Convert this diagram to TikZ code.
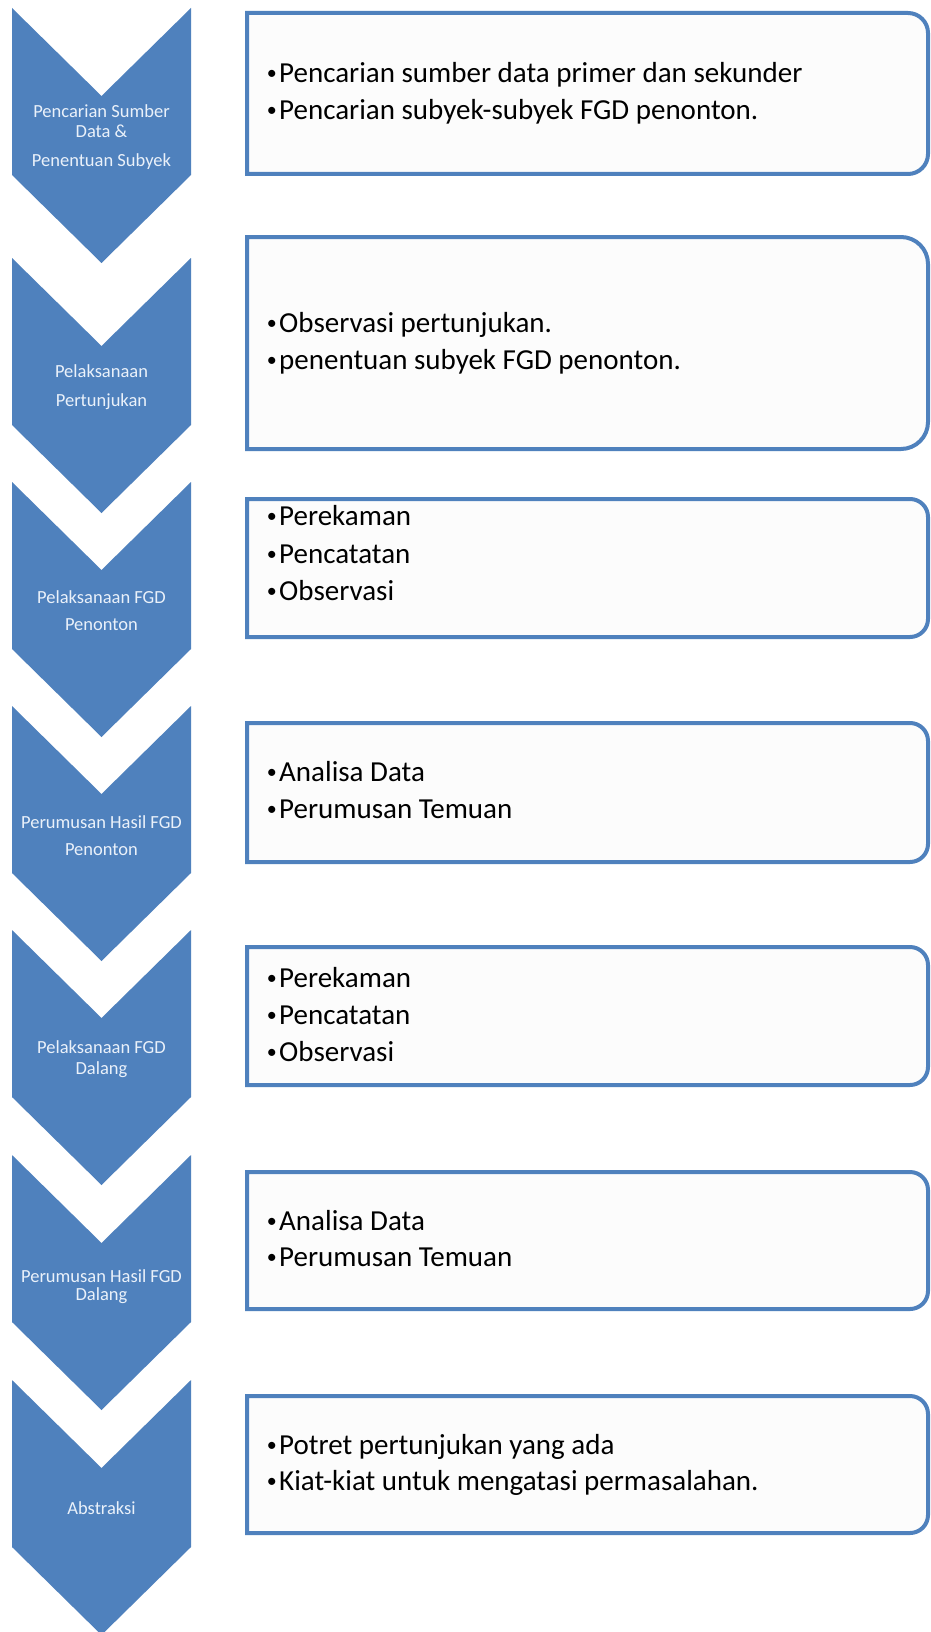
\documentclass[tikz,border=0pt]{standalone}
\usepackage{fontspec}
\setmainfont{Carlito}
\usepackage{tikz}
\definecolor{chevblue}{RGB}{79,129,189}
\definecolor{chevtext}{RGB}{234,241,250}
\newcommand{\itembul}{\makebox[14.5pt][c]{\raisebox{3pt}{\fontsize{20}{20}\selectfont •}}}

\begin{document}
\begin{tikzpicture}
      [
        x=1pt, y=-1pt,
        chevron/.style={fill=chevblue},
        steplabel/.style={align=center, text=chevtext, inner sep=0pt},
        itembox/.style={draw=chevblue, line width=4pt, fill=white!99!black},
        item/.style={anchor=base west, inner sep=0pt, font=\fontsize{29}{37}\selectfont}
      ]
      \useasboundingbox[fill=white] (0,0) rectangle (930,1632);
      % chevrons
      \foreach \t/\ls/\c/\txt [count=\i] in {
          8/20/129.5/{Pencarian Sumber\\Data \&\\[9pt]Penentuan Subyek},
          258/29/129.5/{Pelaksanaan\\Pertunjukan},
          482/27/128.5/{Pelaksanaan FGD\\Penonton},
          706/27/129.5/{Perumusan Hasil FGD\\Penonton},
          930/21/129.5/{Pelaksanaan FGD\\Dalang},
          1155/18/132/{Perumusan Hasil FGD\\Dalang},
          1380/20/128/{Abstraksi}} {
          \fill [chevron] (12,\t) -- (101.5,\t+88) -- (191,\t) -- (191,\t+167)
            -- (101.5,\t+255) -- (12,\t+167) -- cycle;
          \node [steplabel, font=\fontsize{18.5}{\ls}\selectfont] (step\i) at (101.5,\t+\c) {\txt};
      }
      % boxes
      \foreach \t/\b/\r in {13/174/20, 237/449/27, 499/637/18, 723/862/18,
          947/1085/18, 1172/1309/18, 1396/1533/18} {
          \draw [itembox] (600,\t) [rounded corners=\r pt] -- (928,\t) -- (928,\b)
            -- (600,\b) [sharp corners] -- (247,\b) -- (247,\t) -- cycle;
      }
      % items
      \foreach \y/\txt [count=\i] in {
          82.7/{Pencarian sumber data primer dan sekunder},
          119.3/{Pencarian subyek-subyek FGD penonton.},
          332/{Observasi pertunjukan.},
          369/{penentuan subyek FGD penonton.},
          525.7/{Perekaman},
          563/{Pencatatan},
          600/{Observasi},
          781.7/{Analisa Data},
          818/{Perumusan Temuan},
          987/{Perekaman},
          1024/{Pencatatan},
          1061/{Observasi},
          1230/{Analisa Data},
          1266.5/{Perumusan Temuan},
          1454/{Potret pertunjukan yang ada},
          1490.5/{Kiat-kiat untuk mengatasi permasalahan.}} {
          \node [item] (item\i) at (264.5,\y) {\itembul\txt};
      }
    \end{tikzpicture}
\end{document}
